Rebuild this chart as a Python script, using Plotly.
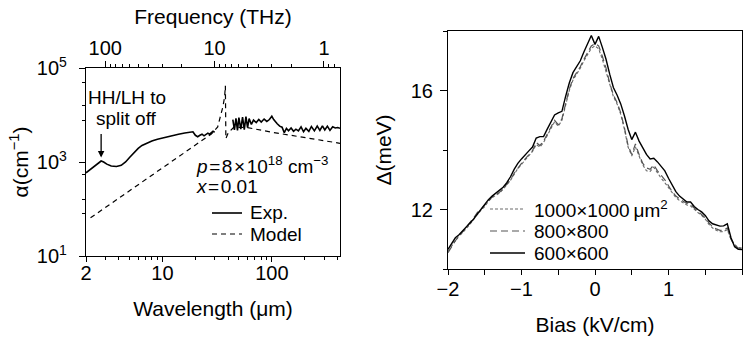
import math
import plotly.graph_objects as go

# ---------------- Left panel data ----------------
lam_exp = [2.0, 2.2, 2.4, 2.6, 2.75, 2.9, 3.1, 3.4, 3.8, 4.2, 4.6, 5.0, 5.5, 6.0, 6.5, 7.0, 8.0, 9.0,
           10, 12, 14, 16, 18, 19, 20, 21, 22, 23, 24, 25, 26, 27, 28, 29, 30,
           None,
           44, 45.5, 47, 48.5, 50, 52, 54, 56, 58, 60, 62, 65, 68, 72, 76, 80, 85, 90, 95, 100,
           104, 108, 112, 118, 124, 130, 136, 142, 150, 158, 166, 175, 185, 195, 205, 218, 230,
           245, 260, 275, 290, 305, 322, 340, 360, 380, 400, 420]
alpha_exp = [590, 700, 820, 950, 1050, 1000, 900, 820, 800, 850, 1000, 1250, 1600, 1950, 2250, 2450, 2800, 3050,
             3250, 3600, 3900, 4150, 4350, 4400, 3700, 3450, 3700, 3900, 3600, 3800, 4100, 3900, 4200, 4500, 4300,
             None,
             8000, 4800, 8500, 4700, 8800, 5000, 9000, 4900, 9200, 5400, 8400, 6300, 7800, 6900, 8000, 7100, 8200, 7300, 8000, 9400,
             8000, 7000, 6500, 5800, 5500, 4200, 5200, 4600, 5300, 4500, 5000, 4600, 5600, 4400, 5200, 4500, 5700,
             4600, 5800, 4700, 5900, 4800, 5800, 4700, 5600, 5300, 5400, 5200]

lam_model = [2.2, 5, 10, 20, 28, 32, 35.7, 37, 37.6, 38.0, 40, 45, 60, 100, 200, 420]
alpha_model = [65, 245, 750, 2300, 3950, 5600, 15000, 24000, 42000, 3160, 4200, 5500, 5400, 4300, 3300, 2500]

lam_ticks = [2, 10, 100]
lam_minor = [3, 4, 5, 6, 7, 8, 9, 20, 30, 40, 50, 60, 70, 80, 90, 200, 300, 400]
freq_ticks = [1, 10, 100]
freq_minor = [0.8, 0.9, 2, 3, 4, 5, 6, 7, 8, 9, 20, 30, 40, 50, 60, 70, 80, 90]
alpha_ticks = [10, 1000, 100000]
alpha_ticktext = ["10<sup>1</sup>", "10<sup>3</sup>", "10<sup>5</sup>"]
alpha_minor = [80, 160, 530, 7500, 16000, 50000]
C_UM_THZ = 299.79
left_legend_names = ["Exp.", "Model"]

# ---------------- Right panel data ----------------
bias = [-2.00, -1.95, -1.90, -1.85, -1.80, -1.75, -1.70, -1.65, -1.60, -1.55, -1.50, -1.45, -1.40, -1.35,
        -1.30, -1.25, -1.20, -1.15, -1.10, -1.05, -1.00, -0.95, -0.90, -0.85, -0.80, -0.75, -0.70, -0.65,
        -0.60, -0.55, -0.50, -0.45, -0.40, -0.35, -0.30, -0.25, -0.20, -0.15, -0.10, -0.05, 0.00,
        0.05, 0.10, 0.15, 0.20, 0.25, 0.30, 0.35, 0.40, 0.45, 0.50, 0.55, 0.60, 0.65, 0.70, 0.75, 0.80,
        0.85, 0.90, 0.95, 1.00, 1.05, 1.10, 1.15, 1.20, 1.25, 1.30, 1.35, 1.40, 1.45, 1.50, 1.55, 1.60,
        1.65, 1.70, 1.75, 1.80, 1.85, 1.90, 1.95, 2.00]
gap_600 = [10.66, 10.85, 11.05, 11.15, 11.28, 11.40, 11.52, 11.68, 11.85, 12.02, 12.15, 12.33, 12.45, 12.55,
           12.62, 12.75, 12.90, 13.10, 13.35, 13.55, 13.70, 13.85, 13.97, 14.10, 14.40, 14.45, 14.45, 14.70,
           14.95, 15.18, 15.25, 15.30, 15.80, 16.25, 16.60, 16.80, 17.00, 17.30, 17.60, 17.85, 17.55,
           17.82, 17.45, 17.05, 16.55, 16.10, 15.85, 15.55, 15.15, 14.70, 14.35, 14.60, 14.30, 14.05, 13.85, 13.70, 13.72,
           13.60, 13.45, 13.30, 13.05, 12.80, 12.60, 12.45, 12.35, 12.25, 12.25, 12.10, 12.00, 11.92, 11.80, 11.62, 11.52,
           11.48, 11.44, 11.45, 11.52, 11.05, 10.75, 10.66, 10.65]
gap_800 = [10.55, 10.75, 10.95, 11.10, 11.25, 11.38, 11.55, 11.72, 11.90, 12.00, 12.15, 12.30, 12.42, 12.50,
           12.58, 12.70, 12.85, 13.00, 13.22, 13.40, 13.55, 13.70, 13.85, 13.98, 14.25, 14.15, 14.30, 14.55,
           14.80, 15.00, 14.85, 15.05, 15.55, 16.05, 16.40, 16.60, 16.80, 17.05, 17.30, 17.50, 17.58,
           17.50, 17.15, 16.75, 16.25, 15.85, 15.60, 15.25, 14.75, 14.15, 13.85, 14.20, 13.85, 13.55, 13.40, 13.35, 13.50,
           13.30, 13.15, 13.00, 12.80, 12.60, 12.45, 12.35, 12.28, 12.20, 12.18, 12.05, 11.95, 11.85, 11.72, 11.55, 11.42,
           11.35, 11.30, 11.30, 11.38, 11.00, 10.80, 10.70, 10.68]
gap_1000 = [10.60, 10.78, 10.92, 11.12, 11.22, 11.35, 11.50, 11.68, 11.85, 11.98, 12.10, 12.28, 12.40, 12.48,
            12.55, 12.68, 12.82, 12.98, 13.18, 13.38, 13.52, 13.66, 13.80, 13.95, 14.18, 14.10, 14.25, 14.50,
            14.75, 14.95, 14.80, 15.00, 15.50, 16.00, 16.35, 16.55, 16.75, 17.00, 17.22, 17.42, 17.50,
            17.40, 17.05, 16.65, 16.20, 15.80, 15.55, 15.20, 14.70, 14.10, 13.80, 14.10, 13.80, 13.50, 13.30, 13.28, 13.42,
            13.22, 13.05, 12.90, 12.72, 12.55, 12.40, 12.30, 12.22, 12.15, 12.12, 12.00, 11.90, 11.80, 11.68, 11.50, 11.38,
            11.30, 11.25, 11.26, 11.32, 11.00, 10.82, 10.72, 10.70]
bias_ticks = [-2, -1, 0, 1, 2]
bias_ticktext = ["\u22122", "\u22121", "0", "1", "2"]
bias_minor = [-1.5, -0.5, 0.5, 1.5]
gap_ticks = [12, 16]
gap_minor = [10, 14, 18]
right_legend_names = ["1000\u00d71000\u2009\u03bcm<sup>2</sup>", "800\u00d7800", "600\u00d7600"]

W, H = 745, 337
FONT = "Liberation Sans, Arial, sans-serif"

def px(x):
    return x / W

def py(y):
    return 1 - y / H

fig = go.Figure()

exp_style = dict(color="black", width=1.6)
model_style = dict(color="black", width=1.2, dash="5px,4px")
s1000 = dict(color="#6a6a6a", width=1.1, dash="3px,2px")
s800 = dict(color="#555555", width=1.2, dash="7px,4px")
s600 = dict(color="black", width=1.4)

# Left panel traces
fig.add_trace(go.Scatter(x=lam_exp, y=alpha_exp, mode="lines", name=left_legend_names[0],
                         line=exp_style, connectgaps=False, showlegend=False,
                         xaxis="x", yaxis="y"))
fig.add_trace(go.Scatter(x=lam_model, y=alpha_model, mode="lines", name=left_legend_names[1],
                         line=model_style, showlegend=False, xaxis="x", yaxis="y"))
# invisible trace registering the top frequency axis
fig.add_trace(go.Scatter(x=[C_UM_THZ / l for l in lam_model], y=alpha_model, mode="lines",
                         line=dict(width=0), opacity=0, showlegend=False, hoverinfo="skip",
                         xaxis="x3", yaxis="y"))

# Right panel traces
fig.add_trace(go.Scatter(x=bias, y=gap_1000, mode="lines", name=right_legend_names[0], line=s1000,
                         showlegend=False, xaxis="x2", yaxis="y2"))
fig.add_trace(go.Scatter(x=bias, y=gap_800, mode="lines", name=right_legend_names[1], line=s800,
                         showlegend=False, xaxis="x2", yaxis="y2"))
fig.add_trace(go.Scatter(x=bias, y=gap_600, mode="lines", name=right_legend_names[2], line=s600,
                         showlegend=False, xaxis="x2", yaxis="y2"))

TICK_SIZE = 20
TITLE_SIZE = 21
axis_common = dict(showgrid=False, zeroline=False, showline=True, linecolor="black", linewidth=1.2,
                   ticks="outside", tickcolor="black", tickwidth=1.2, automargin=False,
                   tickfont=dict(size=TICK_SIZE, color="black", family=FONT))

fig.update_layout(
    width=W, height=H,
    margin=dict(l=0, r=0, t=0, b=0),
    paper_bgcolor="white", plot_bgcolor="white",
    font=dict(family=FONT, size=19, color="black"),
    showlegend=False,
    xaxis=dict(axis_common, type="log", domain=[px(86), px(340)], anchor="y",
               range=[math.log10(2), math.log10(420)],
               tickmode="array", tickvals=lam_ticks, ticktext=[str(v) for v in lam_ticks], ticklen=5,
               ticklabelstandoff=-6,
               minor=dict(tickmode="array", tickvals=lam_minor, ticks="outside", ticklen=3,
                          tickcolor="black", tickwidth=1),
               title=dict(text="Wavelength (\u03bcm)", font=dict(size=TITLE_SIZE), standoff=18)),
    xaxis3=dict(axis_common, type="log", overlaying="x", side="top", anchor="y",
                range=[math.log10(C_UM_THZ / 2), math.log10(C_UM_THZ / 420)],
                tickmode="array", tickvals=freq_ticks, ticktext=[str(v) for v in freq_ticks], ticklen=6,
                ticklabelstandoff=-2,
                minor=dict(tickmode="array", tickvals=freq_minor, ticks="outside", ticklen=3,
                           tickcolor="black", tickwidth=1),
                title=dict(text="Frequency (THz)", font=dict(size=TITLE_SIZE), standoff=6)),
    yaxis=dict(axis_common, type="log", domain=[py(256), py(68)], anchor="x",
               range=[1, 5], mirror=True,
               tickmode="array", tickvals=alpha_ticks, ticktext=alpha_ticktext, ticklen=6,
               ticklabelstandoff=8,
               minor=dict(tickmode="array", tickvals=alpha_minor, ticks="outside", ticklen=3,
                          tickcolor="black", tickwidth=1),
               title=dict(text="\u03b1(cm<sup>\u22121</sup>)", font=dict(size=TITLE_SIZE), standoff=2)),
    xaxis2=dict(axis_common, domain=[px(448), px(742)], anchor="y2", range=[-2, 2], mirror=True,
                tickmode="array", tickvals=bias_ticks, ticktext=bias_ticktext, ticklen=5,
                ticklabelstandoff=-3,
                minor=dict(tickmode="array", tickvals=bias_minor, ticks="outside", ticklen=5,
                           tickcolor="black", tickwidth=1.2),
                title=dict(text="Bias (kV/cm)", font=dict(size=TITLE_SIZE), standoff=18)),
    yaxis2=dict(axis_common, domain=[py(269), py(31)], anchor="x2", range=[10, 18], mirror=True,
                tickmode="array", tickvals=gap_ticks, ticktext=[str(v) for v in gap_ticks], ticklen=7,
                ticklabelstandoff=3,
                minor=dict(tickmode="array", tickvals=gap_minor, ticks="outside", ticklen=4,
                           tickcolor="black", tickwidth=1.2),
                title=dict(text="\u0394(meV)", font=dict(size=TITLE_SIZE), standoff=13)),
)

# Manual legends (key line + label)
def legend_entry(x0, x1, y, style, label, tx):
    fig.add_shape(type="line", xref="paper", yref="paper", x0=px(x0), x1=px(x1), y0=py(y), y1=py(y),
                  line=dict(color=style["color"], width=style["width"], dash=style.get("dash", "solid")))
    fig.add_annotation(x=px(tx), y=py(y), xref="paper", yref="paper", text=label, showarrow=False,
                       xanchor="left", yanchor="middle", font=dict(size=19, color="black", family=FONT))

legend_entry(212, 242, 213, exp_style, left_legend_names[0], 248)
legend_entry(212, 242, 234, model_style, left_legend_names[1], 248)
legend_entry(490, 525, 209, s1000, right_legend_names[0], 532)
legend_entry(490, 525, 231, s800, right_legend_names[1], 532)
legend_entry(490, 525, 253, s600, right_legend_names[2], 532)

# Text annotations in the left panel
ann_font = dict(size=19, color="black", family=FONT)
fig.add_annotation(x=px(127), y=py(97), xref="paper", yref="paper", text="HH/LH to",
                   showarrow=False, font=ann_font, xanchor="center", yanchor="middle")
fig.add_annotation(x=px(127), y=py(118), xref="paper", yref="paper", text="split off",
                   showarrow=False, font=ann_font, xanchor="center", yanchor="middle")
fig.add_annotation(x=math.log10(2.75), y=math.log10(1250), xref="x", yref="y", text="",
                   showarrow=True, arrowhead=2, arrowsize=1, arrowwidth=1.3, arrowcolor="black",
                   ax=0, ay=-25)
fig.add_annotation(x=px(194), y=py(165), xref="paper", yref="paper",
                   text="<i>p</i>\u200a=\u200a8\u200a\u00d7\u200a10<sup>18</sup> cm<sup>\u22123</sup>",
                   showarrow=False, font=ann_font, xanchor="left", yanchor="middle")
fig.add_annotation(x=px(194), y=py(186), xref="paper", yref="paper",
                   text="<i>x</i>\u200a=\u200a0.01",
                   showarrow=False, font=ann_font, xanchor="left", yanchor="middle")

fig.write_html("out.html")
